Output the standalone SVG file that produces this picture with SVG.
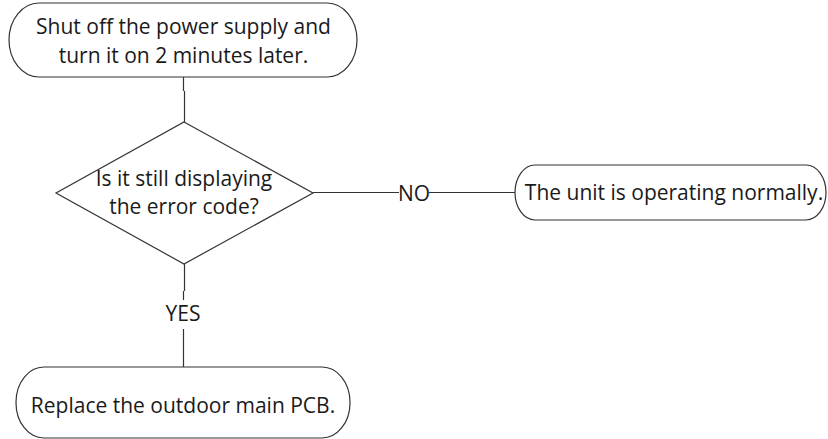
<svg xmlns="http://www.w3.org/2000/svg" width="828" height="439" viewBox="0 0 828 439">
<style>
.box{fill:#fff;stroke:#333;stroke-width:1.2}
.ln{fill:none;stroke:#333;stroke-width:1.2}
text{font-family:"Open Sans","Liberation Sans",sans-serif;font-size:21px;fill:#1a1a1a;text-anchor:middle}
</style>
<rect width="828" height="439" fill="#fff"/>
<g id="connectors">
<path class="ln" d="M183.5 77 V91 M184.5 91 V122"/>
<path class="ln" d="M184.5 264 V291 M183.5 291 V300 M183.5 329 V367"/>
<path class="ln" d="M313 192.5 H399 M429 192.5 H515"/>
<text x="183" y="321">YES</text>
<text x="414" y="201">NO</text>
</g>
<g id="start">
<rect class="box" x="9" y="3" width="348" height="74" rx="30" ry="37"/>
<text x="183.5" y="34">Shut off the power supply and</text>
<text x="183.5" y="63">turn it on 2 minutes later.</text>
</g>
<g id="decision">
<polygon class="box" points="184,122 313,193 184,264 56,193"/>
<text x="184" y="186">Is it still displaying</text>
<text x="184" y="214">the error code?</text>
</g>
<g id="normal">
<rect class="box" x="515" y="165" width="311" height="55" rx="20" ry="27.5"/>
<text x="674" y="200">The unit is operating normally.</text>
</g>
<g id="replace">
<rect class="box" x="16" y="367" width="334" height="71" rx="28" ry="35"/>
<text x="183" y="413">Replace the outdoor main PCB.</text>
</g>
</svg>
